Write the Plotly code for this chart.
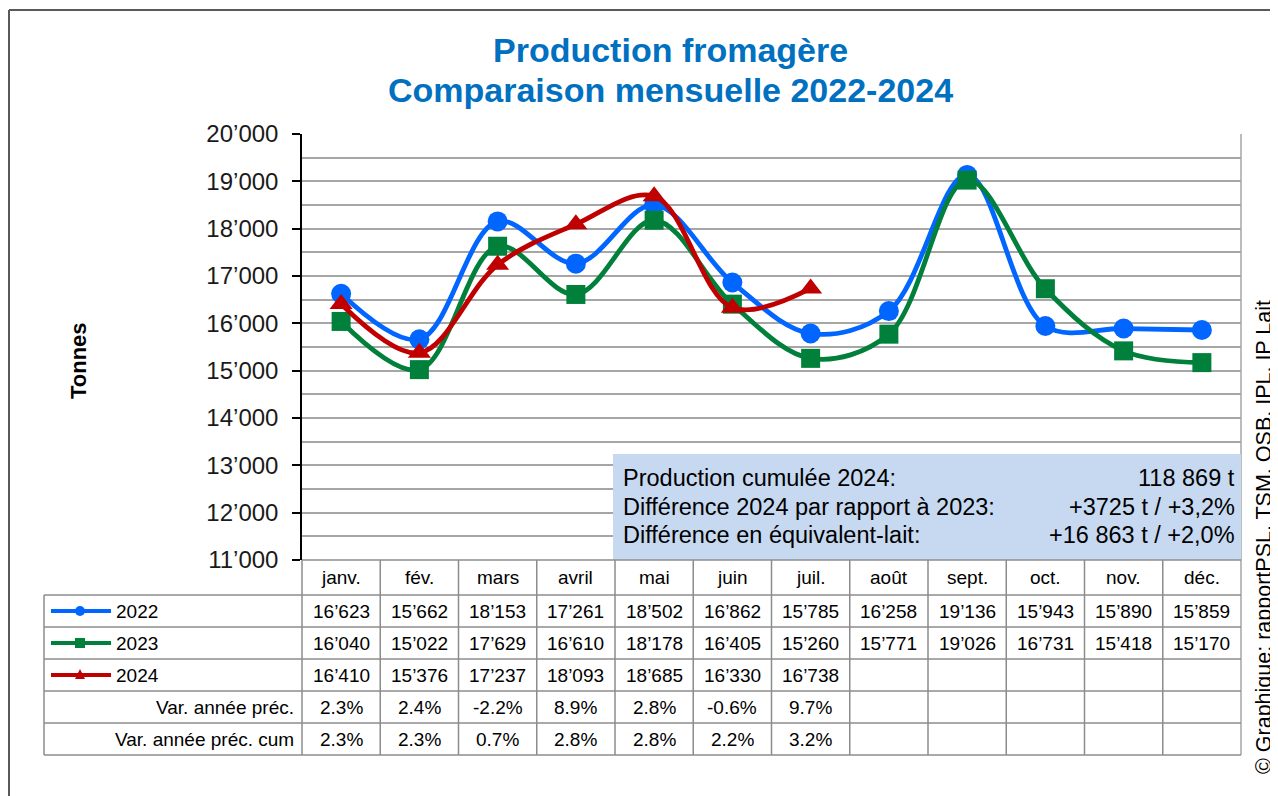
import plotly.graph_objects as go

months = ["janv.", "fév.", "mars", "avril", "mai", "juin", "juil.", "août", "sept.", "oct.", "nov.", "déc."]
v2022 = [16623, 15662, 18153, 17261, 18502, 16862, 15785, 16258, 19136, 15943, 15890, 15859]
v2023 = [16040, 15022, 17629, 16610, 18178, 16405, 15260, 15771, 19026, 16731, 15418, 15170]
v2024 = [16410, 15376, 17237, 18093, 18685, 16330, 16738]
var_prec = ["2.3%", "2.4%", "-2.2%", "8.9%", "2.8%", "-0.6%", "9.7%"]
var_cum = ["2.3%", "2.3%", "0.7%", "2.8%", "2.8%", "2.2%", "3.2%"]
y_ticks = [11000, 12000, 13000, 14000, 15000, 16000, 17000, 18000, 19000, 20000]
info_labels = ["Production cumulée 2024:", "Différence 2024 par rapport à 2023:", "Différence en équivalent-lait:"]
info_values = ["118 869 t", "+3725 t / +3,2%", "+16 863 t / +2,0%"]

# screen geometry (browser page has an 8px body margin)
OFF = 8
SW, SH = 1278, 796
W, H = SW - OFF, SH - OFF
L, R, T, B = 302, 1241, 134, 560
FONT = "Liberation Sans, Arial, sans-serif"
C22, C23, C24 = "#0066FF", "#00803A", "#C00000"
GRID = "#A6A6A6"


def fmt(v):
    return f"{v:,}".replace(",", "\u2019")


def px(x):
    return (x - L) / (R - L)


def py(y):
    return (B - y) / (B - T)


fig = go.Figure()
series = [("2022", v2022, C22, "circle", 20),
          ("2023", v2023, C23, "square", 19),
          ("2024", v2024, C24, "triangle-up", 20)]
for name, vals, col, sym, ms in series:
    fig.add_trace(go.Scatter(
        x=months[:len(vals)], y=vals, name=name, mode="lines+markers",
        line=dict(color=col, width=4.8, shape="spline", smoothing=1.0),
        marker=dict(symbol=sym, size=ms, color=col),
        showlegend=False, cliponaxis=False))

shapes = []
annotations = []

# outer frame
shapes.append(dict(type="line", xref="paper", yref="paper", x0=px(9), x1=px(1290), y0=py(10), y1=py(10),
                   line=dict(color="#595959", width=2)))
shapes.append(dict(type="line", xref="paper", yref="paper", x0=px(9), x1=px(9), y0=py(10), y1=py(800),
                   line=dict(color="#595959", width=2)))

# plot border (right)
shapes.append(dict(type="line", xref="paper", yref="paper", x0=px(R), x1=px(R), y0=py(T), y1=py(755),
                   line=dict(color=GRID, width=1.5)))

# info box
shapes.append(dict(type="rect", xref="paper", yref="paper", x0=px(613), x1=px(R), y0=py(454), y1=py(B),
                   fillcolor="#C6D9F1", line=dict(width=0), layer="above"))
IF = dict(family=FONT, size=23.5, color="black")
for i, (lab, val) in enumerate(zip(info_labels, info_values)):
    yy = 478 + i * 28.5
    annotations.append(dict(text=lab, xref="paper", yref="paper", x=px(621), y=py(yy), xanchor="left",
                            yanchor="middle", showarrow=False, font=IF))
    annotations.append(dict(text=val, xref="paper", yref="paper", x=px(1237), y=py(yy), xanchor="right",
                            yanchor="middle", showarrow=False, font=IF))

# data table grid
TLINE = dict(color="#8C8C8C", width=1.5)
rows_y = [595, 627, 659, 691, 723, 755]
for yy in rows_y:
    shapes.append(dict(type="line", xref="paper", yref="paper", x0=px(44), x1=px(R), y0=py(yy), y1=py(yy), line=TLINE))
shapes.append(dict(type="line", xref="paper", yref="paper", x0=px(L), x1=px(R), y0=py(B), y1=py(B), line=TLINE))
shapes.append(dict(type="line", xref="paper", yref="paper", x0=px(44), x1=px(44), y0=py(595), y1=py(755), line=TLINE))
colw = (R - L) / 12
for k in range(0, 12):
    xx = L + k * colw
    shapes.append(dict(type="line", xref="paper", yref="paper", x0=px(xx), x1=px(xx), y0=py(B), y1=py(755), line=TLINE))

TF = dict(family=FONT, size=19, color="black")
row_centers = [577, 611, 643, 675, 707, 739]
for i, m in enumerate(months):
    annotations.append(dict(text=m, x=i, xref="x", yref="paper", y=py(row_centers[0]), showarrow=False, font=TF,
                            xanchor="center", yanchor="middle"))
for r, vals in enumerate([v2022, v2023, v2024]):
    for i, v in enumerate(vals):
        annotations.append(dict(text=fmt(v), x=i, xref="x", yref="paper", y=py(row_centers[r + 1]), showarrow=False,
                                font=TF, xanchor="center", yanchor="middle"))
for r, vals in enumerate([var_prec, var_cum]):
    for i, v in enumerate(vals):
        annotations.append(dict(text=v, x=i, xref="x", yref="paper", y=py(row_centers[r + 4]), showarrow=False,
                                font=TF, xanchor="center", yanchor="middle"))

# legend keys in table
for r, (name, vals, col, sym, ms) in enumerate(series):
    cy = row_centers[r + 1]
    shapes.append(dict(type="line", xref="paper", yref="paper", x0=px(51), x1=px(111), y0=py(cy), y1=py(cy),
                       line=dict(color=col, width=4)))
    cx = 80
    if sym == "circle":
        shapes.append(dict(type="circle", xref="paper", yref="paper", x0=px(cx - 5), x1=px(cx + 5),
                           y0=py(cy - 5), y1=py(cy + 5), fillcolor=col, line=dict(width=0)))
    elif sym == "square":
        shapes.append(dict(type="rect", xref="paper", yref="paper", x0=px(cx - 5), x1=px(cx + 5),
                           y0=py(cy - 5), y1=py(cy + 5), fillcolor=col, line=dict(width=0)))
    else:
        shapes.append(dict(type="path", xref="paper", yref="paper",
                           path=f"M {px(cx-5)},{py(cy+4)} L {px(cx+5)},{py(cy+4)} L {px(cx)},{py(cy-6)} Z",
                           fillcolor=col, line=dict(width=0)))
    annotations.append(dict(text=name, xref="paper", yref="paper", x=px(114), y=py(cy), xanchor="left",
                            yanchor="middle", showarrow=False, font=TF))
for r, lab in enumerate(["Var. année préc.", "Var. année préc. cum"]):
    annotations.append(dict(text=lab, xref="paper", yref="paper", x=px(296), y=py(row_centers[r + 4]),
                            xanchor="right", yanchor="middle", showarrow=False, font=TF))

# title
TTF = dict(family=FONT, size=34, color="#0070C0")
annotations.append(dict(text="<b>Production fromagère</b>", xref="paper", yref="paper", x=px(670), y=py(50),
                        xanchor="center", yanchor="middle", showarrow=False, font=TTF))
annotations.append(dict(text="<b>Comparaison mensuelle 2022-2024</b>", xref="paper", yref="paper", x=px(670),
                        y=py(90), xanchor="center", yanchor="middle", showarrow=False, font=TTF))

# axis title and source
annotations.append(dict(text="<b>Tonnes</b>", xref="paper", yref="paper", x=px(78), y=py(361), textangle=-90,
                        showarrow=False, font=dict(family=FONT, size=22, color="black"),
                        xanchor="center", yanchor="middle"))
annotations.append(dict(text="© Graphique: rapportPSL, TSM, OSB, IPL, IP Lait", xref="paper", yref="paper",
                        x=px(1264), y=py(537), textangle=-90, showarrow=False,
                        font=dict(family=FONT, size=21.5, color="black"), xanchor="center", yanchor="middle"))

fig.update_layout(
    width=W, height=H,
    margin=dict(l=L - OFF, r=SW - R, t=T - OFF, b=SH - B),
    plot_bgcolor="white", paper_bgcolor="white",
    shapes=shapes, annotations=annotations,
    xaxis=dict(type="category", range=[-0.5, 11.5], showticklabels=False, showgrid=False, showline=False,
               zeroline=False, ticks=""),
    yaxis=dict(range=[11000, 20000], tickvals=y_ticks, ticktext=[fmt(v) for v in y_ticks],
               tickfont=dict(family=FONT, size=24, color="#1a1a1a"), ticklabelstandoff=9,
               showline=True, linecolor="black", linewidth=1.5, ticks="outside", ticklen=8, tickcolor="black",
               tickwidth=1.5, showgrid=True, gridcolor=GRID, gridwidth=1.5, zeroline=False,
               minor=dict(tickmode="linear", tick0=11000, dtick=500, showgrid=True, gridcolor=GRID,
                          gridwidth=1.5, ticks="")),
)

fig.write_html("out.html")
